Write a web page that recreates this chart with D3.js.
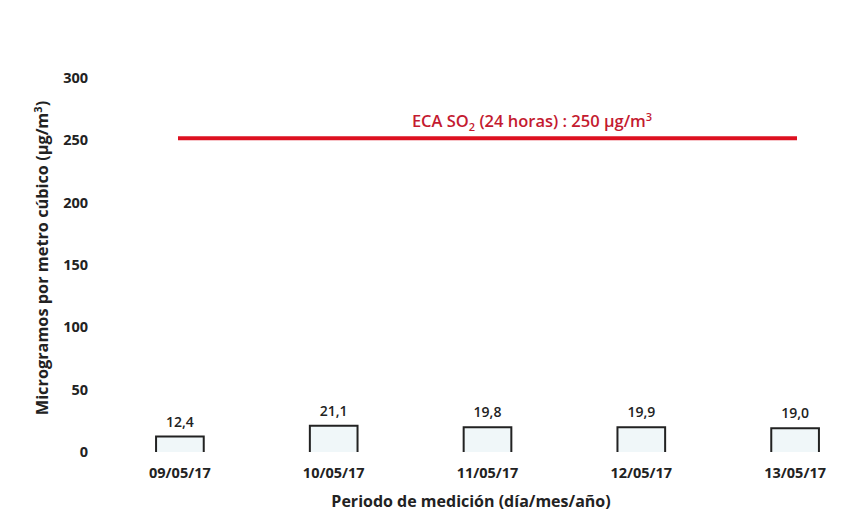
<!DOCTYPE html>
<meta charset="utf-8">
<style>
body { margin: 0; background: #fff; }
text { font-family: "Open Sans", Lato, sans-serif; fill: #222; }
</style>
<svg width="856" height="515"></svg>
<script src="https://d3js.org/d3.v7.min.js"></script>
<script>

// data
var fechas = ["09/05/17", "10/05/17", "11/05/17", "12/05/17", "13/05/17"];
var valores = [12.4, 21.1, 19.8, 19.9, 19.0];
var yTicks = [0, 50, 100, 150, 200, 250, 300];
var limiteECA = 250;

var svg = d3.select("svg");

var x = d3.scaleBand()
    .domain(fechas)
    .range([103, 872])
    .paddingInner(0.69)
    .paddingOuter(0.345);

var y = d3.scaleLinear()
    .domain([0, 300])
    .range([452, 78]);

// y axis, labels only
var yAxis = svg.append("g")
    .attr("transform", "translate(90,0)")
    .call(d3.axisLeft(y).tickValues(yTicks).tickSize(0).tickPadding(2));
yAxis.select(".domain").remove();
yAxis.selectAll("text")
    .style("font-family", "'Open Sans', sans-serif")
    .style("font-size", "14.5px")
    .style("font-weight", "bold")
    .attr("fill", "#222");

// x axis, labels only
var xAxis = svg.append("g")
    .attr("transform", "translate(0,452)")
    .call(d3.axisBottom(x).tickSize(0).tickPadding(16));
xAxis.select(".domain").remove();
xAxis.selectAll("text")
    .style("font-family", "'Open Sans', sans-serif")
    .style("font-size", "14.5px")
    .style("font-weight", "bold")
    .attr("fill", "#222");

// bars: open boxes, no bottom edge
svg.selectAll("path.bar")
  .data(valores)
  .enter().append("path")
    .attr("class", "bar")
    .attr("fill", "#f0f7f9")
    .attr("stroke", "#222")
    .attr("stroke-width", 2)
    .attr("d", function(d, i) {
      var x0 = x(fechas[i]), x1 = x0 + x.bandwidth();
      return "M" + x0 + "," + y(0) + "V" + y(d) + "H" + x1 + "V" + y(0);
    });

// value labels
svg.selectAll("text.val")
  .data(valores)
  .enter().append("text")
    .attr("class", "val")
    .attr("x", function(d, i) { return x(fechas[i]) + x.bandwidth() / 2; })
    .attr("y", function(d) { return y(d) - 10; })
    .attr("text-anchor", "middle")
    .style("font-size", "14px")
    .style("font-weight", "600")
    .text(function(d) { return d.toFixed(1).replace(".", ","); });

// ECA limit line
svg.append("line")
    .attr("x1", 178)
    .attr("x2", 797)
    .attr("y1", y(limiteECA) - 2)
    .attr("y2", y(limiteECA) - 2)
    .attr("stroke", "#dd1020")
    .attr("stroke-width", 4);

var eca = svg.append("text")
    .attr("x", 532)
    .attr("y", y(limiteECA) - 13)
    .attr("text-anchor", "middle")
    .style("font-size", "16.5px")
    .style("font-weight", "600")
    .style("fill", "#c41a30");
eca.append("tspan").text("ECA SO");
eca.append("tspan").attr("dy", 4).style("font-size", "11px").text("2");
eca.append("tspan").attr("dy", -4).text(" (24 horas) : 250 µg/m");
eca.append("tspan").attr("dy", -6).style("font-size", "11px").text("3");

// axis titles
svg.append("text")
    .attr("x", 471)
    .attr("y", 507)
    .attr("text-anchor", "middle")
    .style("font-size", "16px")
    .style("font-weight", "bold")
    .text("Periodo de medición (día/mes/año)");

var yt = svg.append("text")
    .attr("transform", "translate(48,258) rotate(-90)")
    .attr("text-anchor", "middle")
    .style("font-size", "16.3px")
    .style("font-weight", "bold");
yt.append("tspan").text("Microgramos por metro cúbico (µg/m");
yt.append("tspan").attr("dy", -6).style("font-size", "11px").text("3");
yt.append("tspan").attr("dy", 6).text(")");

</script>
